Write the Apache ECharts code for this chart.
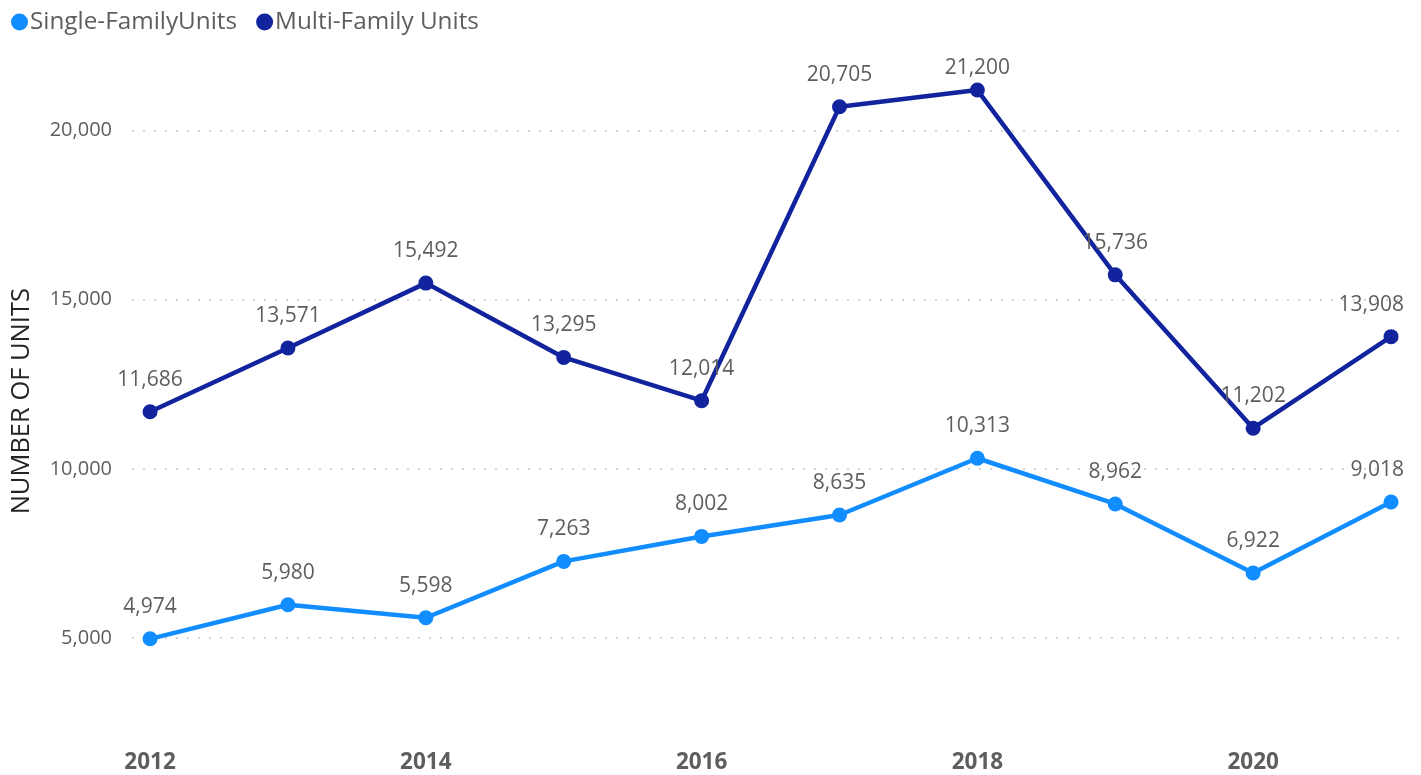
<!DOCTYPE html>
<html>
<head>
<meta charset="utf-8">
<script src="https://cdn.jsdelivr.net/npm/echarts@6/dist/echarts.min.js"></script>
<style>
html, body { margin: 0; padding: 0; background: #fff; }
#chart { width: 1421px; height: 775px; }
</style>
</head>
<body>
<div id="chart"></div>
<script>
var years = [2012, 2013, 2014, 2015, 2016, 2017, 2018, 2019, 2020, 2021];
var singleFamily = [4974, 5980, 5598, 7263, 8002, 8635, 10313, 8962, 6922, 9018];
var multiFamily = [11686, 13571, 15492, 13295, 12014, 20705, 21200, 15736, 11202, 13908];
var yearLabels = [2012, 2014, 2016, 2018, 2020];
var yTicks = [5000, 10000, 15000, 20000];

var font = '"Segoe UI", "Open Sans", sans-serif';
var gridTop = 63, gridRight = 17;

function pairs(values) {
    return years.map(function (y, i) { return [y, values[i]]; });
}

// keep data labels inside the plot, like the original visual does
function keepInside(params) {
    var r = params.labelRect;
    var out = {};
    var right = 1421 - gridRight;
    if (r.x + r.width > right) out.dx = right - (r.x + r.width);
    if (r.y < gridTop - 5) out.dy = gridTop - 5 - r.y;
    return out;
}

function lineSeries(name, values, color) {
    return {
        name: name,
        type: 'line',
        data: pairs(values),
        symbol: 'circle',
        symbolSize: 15,
        lineStyle: { width: 4.5, color: color },
        itemStyle: { color: color },
        label: {
            show: true,
            position: 'top',
            distance: 14,
            color: '#605E5C',
            fontFamily: font,
            fontSize: 21,
            formatter: function (p) { return p.value[1].toLocaleString('en-US'); }
        },
        labelLayout: keepInside,
        emphasis: { disabled: true }
    };
}

var chart = echarts.init(document.getElementById('chart'));
var option = {
    animation: false,
    legend: {
        left: 6,
        top: 5,
        icon: 'circle',
        itemWidth: 17,
        itemHeight: 17,
        itemGap: 19,
        textStyle: { color: '#605E5C', fontFamily: font, fontSize: 24.3, padding: [0, 0, 0, -3] },
        data: ['Single-FamilyUnits', 'Multi-Family Units']
    },
    grid: { left: 132, right: gridRight, top: gridTop, bottom: 35.6 },
    xAxis: {
        type: 'value',
        min: 2011.869,
        max: 2021.094,
        splitLine: { show: false },
        axisLine: { show: false },
        axisTick: { show: false },
        axisLabel: {
            customValues: yearLabels,
            margin: 12,
            color: '#605E5C',
            fontFamily: font,
            fontWeight: 'bold',
            fontSize: 22.5,
            formatter: function (v) { return String(v); }
        }
    },
    yAxis: {
        type: 'value',
        min: 2000,
        max: 22000,
        name: 'NUMBER OF UNITS',
        nameLocation: 'middle',
        nameGap: 97,
        nameTextStyle: { color: '#252423', fontFamily: font, fontSize: 25.5 },
        axisLine: { show: false },
        axisTick: { show: false, customValues: yTicks },
        axisLabel: {
            customValues: yTicks,
            margin: 20,
            color: '#605E5C',
            fontFamily: font,
            fontSize: 20,
            formatter: function (v) { return v.toLocaleString('en-US'); }
        },
        splitLine: {
            show: true,
            lineStyle: { color: '#C8C6C4', width: 1.5, type: [2, 9] }
        }
    },
    series: [
        lineSeries('Single-FamilyUnits', singleFamily, '#118DFF'),
        lineSeries('Multi-Family Units', multiFamily, '#12239E')
    ]
};
chart.setOption(option);
</script>
</body>
</html>
